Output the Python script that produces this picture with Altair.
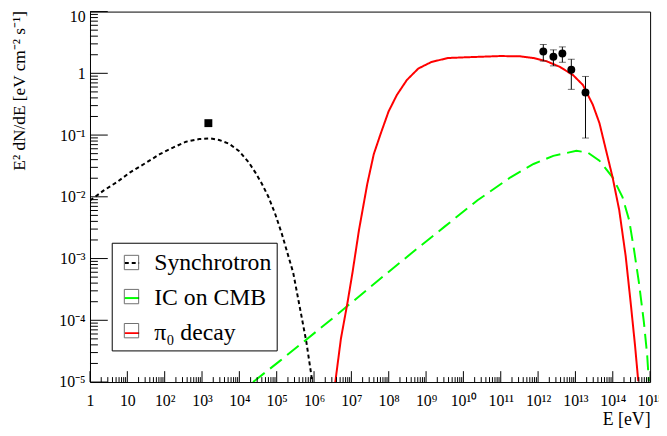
import altair as alt
import pandas as pd

# ---------------- data ----------------
series_names = ["Synchrotron", "IC on CMB", "π₀ decay"]
series_colors = ["#000000", "#00ff00", "#ff0000"]
series_dashes = [[4, 3], [15, 7], [1, 0]]

sync_E = [1.0, 2.34, 5.27, 11.9, 29.8, 74.1, 167, 375, 849, 1718, 2871, 5272, 9705,
          17820, 26670, 40090, 60260, 90160, 135500, 276700, 458100, 622300, 843300, 895400]
sync_F = [0.0087, 0.0127, 0.0173, 0.0249, 0.0348, 0.0491, 0.0627, 0.0782, 0.0863, 0.0885,
          0.0832, 0.0726, 0.0555, 0.0361, 0.0249, 0.0163, 0.00993, 0.00538, 0.00258,
          0.00059, 0.000119, 4.48e-5, 1.31e-5, 1.0e-5]

ic_E = [2.32e4, 1.22e5, 3.86e6, 5.41e7, 4.13e8, 3.14e9, 2.39e10, 1.83e11, 7.55e11,
        2.55e12, 1.06e13, 2.15e13, 4.40e13, 9.89e13, 1.82e14, 2.74e14, 3.71e14,
        5.02e14, 6.81e14, 8.34e14, 9.25e14]
ic_F = [1.0e-5, 2.2e-5, 1.19e-4, 4.5e-4, 1.23e-3, 3.29e-3, 8.79e-3, 0.0207, 0.034,
        0.0461, 0.0555, 0.0521, 0.0384, 0.0207, 0.00993, 0.00421, 0.00139, 4.08e-4,
        9.35e-5, 2.74e-5, 1.03e-5]

pi_E = [3.71e6, 5.25e6, 7.89e6, 1.07e7, 1.60e7, 2.67e7, 3.98e7, 6.0e7, 9.93e7, 1.66e8,
        3.05e8, 6.18e8, 1.40e9, 3.85e9, 1.06e10, 9.93e10, 3.36e11, 7.55e11, 1.70e12,
        3.85e12, 8.65e12, 1.59e13, 2.92e13, 4.40e13, 9.89e13, 1.49e14, 2.22e14,
        3.01e14, 3.94e14, 4.82e14]
pi_F = [1.0e-5, 5.06e-5, 1.95e-4, 5.9e-4, 2.91e-3, 0.01626, 0.0491, 0.1026, 0.242,
        0.448, 0.778, 1.194, 1.528, 1.77, 1.815, 1.905, 1.884, 1.77, 1.567, 1.27, 0.935,
        0.647, 0.31, 0.156, 0.0207, 0.00608, 0.00109, 1.95e-4, 3.95e-5, 1.03e-5]

# measured points (filled circles with error bars)
pt_E = [1.38e12, 2.57e12, 4.47e12, 7.76e12, 1.86e13]
pt_F = [2.26, 1.86, 2.10, 1.14, 0.49]
pt_lo = [1.58, 1.32, 1.51, 0.55, 0.0895]
pt_hi = [2.93, 2.40, 2.68, 1.69, 0.89]

# square marker
sq_E = [1480.0]
sq_F = [0.156]

# axis ticks and labels
x_exps = list(range(0, 16))
x_tick_labels = ["1", "10", "10²", "10³", "10⁴", "10⁵", "10⁶", "10⁷", "10⁸", "10⁹",
                 "10¹⁰", "10¹¹", "10¹²", "10¹³", "10¹⁴", "10¹⁵"]
y_exps = list(range(-5, 2))
y_tick_labels = ["10⁻⁵", "10⁻⁴", "10⁻³", "10⁻²", "10⁻¹", "1", "10"]
minor_mults = [2, 3, 4, 5, 6, 7, 8, 9]

# ---------------- tables ----------------
curve_df = pd.concat([
    pd.DataFrame({"E": sync_E, "F": sync_F, "series": series_names[0]}),
    pd.DataFrame({"E": ic_E, "F": ic_F, "series": series_names[1]}),
    pd.DataFrame({"E": pi_E, "F": pi_F, "series": series_names[2]}),
], ignore_index=True)
pts_df = pd.DataFrame({"E": pt_E, "F": pt_F, "lo": pt_lo, "hi": pt_hi})
sq_df = pd.DataFrame({"E": sq_E, "F": sq_F})

x_major = [10.0 ** e for e in x_exps]
x_minor = [m * 10.0 ** e for e in x_exps[:-1] for m in minor_mults]
y_major = [10.0 ** e for e in y_exps]
y_minor = [m * 10.0 ** e for e in y_exps[:-1] for m in minor_mults]

W, H = 567, 375
FONT = "Liberation Serif"


def label_expr(exps, labels):
    expr = "''"
    for e, lab in zip(exps, labels):
        expr = f"round(log(datum.value)/LN10) == {e} ? '{lab}' : (" + expr + ")"
    return expr


xs = alt.Scale(type="log", domain=[1, 1e15])
ys = alt.Scale(type="log", domain=[1e-5, 10])

x_axis = alt.Axis(values=x_major, labelExpr=label_expr(x_exps, x_tick_labels),
                  ticks=False, tickSize=0, domain=False, grid=False,
                  labelFont=FONT, labelFontSize=16, labelColor="black",
                  labelBaseline="middle", labelPadding=19, labelFlush=False,
                  labelOverlap=False, labelBound=False,
                  title="E [eV]", titleFont=FONT, titleFontSize=18,
                  titleFontWeight="normal", titleColor="black",
                  titleAlign="right", titleBaseline="middle", titleX=W, titleY=38)
y_axis = alt.Axis(values=y_major, labelExpr=label_expr(y_exps, y_tick_labels),
                  ticks=False, tickSize=0, domain=False, grid=False,
                  labelFont=FONT, labelFontSize=16, labelColor="black",
                  labelBaseline="middle", labelPadding=5, labelFlush=False,
                  labelOverlap=False, labelBound=False,
                  labelOffset={"condition": {"test": "datum.value > 5", "value": 5}, "value": 0},
                  title="E² dN/dE [eV cm⁻² s⁻¹]", titleFont=FONT, titleFontSize=17.5,
                  titleFontWeight="normal", titleColor="black", titleAngle=270,
                  titleAlign="right", titleBaseline="middle", titleX=-71, titleY=-1)

legend_common = dict(title=None, orient="none", legendX=22, legendY=234, padding=5,
                     symbolSize=841, labelFont=FONT, labelFontSize=24,
                     labelOffset=7, rowPadding=7.5, labelLimit=0)

# horizontal sample stroke; the zero-length segments give it the full box height
line_symbol = "M-0.5,-0.5L-0.5,-0.5M-0.5,0H0.5M0.5,0.5L0.5,0.5"
# sample box outline, padded so its bounds equal those of the stroke symbol
box_symbol = "M-0.5,-0.5H0.5V0.5H-0.5Z M-0.517,-0.517L-0.517,-0.517 M0.517,0.517L0.517,0.517"

line_legend = alt.Legend(symbolType=line_symbol, symbolStrokeWidth=2, labelColor="black",
                         strokeColor="black", **legend_common)

X = lambda f: alt.X(f, scale=xs, axis=x_axis)
Y = lambda f: alt.Y(f, scale=ys, axis=y_axis)

curves = alt.Chart(curve_df).mark_line(strokeWidth=2, clip=True).encode(
    x=X("E:Q"),
    y=Y("F:Q"),
    color=alt.Color("series:N", scale=alt.Scale(domain=series_names, range=series_colors),
                    legend=line_legend),
    strokeDash=alt.StrokeDash("series:N",
                              scale=alt.Scale(domain=series_names, range=series_dashes),
                              legend=line_legend),
)

# empty layer that only provides the little sample boxes of the legend
box_keys = [n + " box" for n in series_names]
box_df = pd.DataFrame({"box": box_keys, "E": [1.0] * 3, "F": [1.0] * 3})
boxes = alt.Chart(box_df).transform_filter("false").mark_point(
    color="#333333", filled=False, strokeWidth=1).encode(
    x=X("E:Q"),
    y=Y("F:Q"),
    shape=alt.Shape("box:N", scale=alt.Scale(domain=box_keys, range=[box_symbol] * 3),
                    legend=alt.Legend(symbolType=box_symbol, symbolStrokeColor="#333333",
                                      symbolStrokeWidth=1, labelExpr="''",
                                      **legend_common)),
)

errs = alt.Chart(pts_df).mark_errorbar(
    ticks={"size": 7, "color": "#333333"}, rule={"strokeWidth": 1}, color="black").encode(
    x=X("E:Q"),
    y=Y("lo:Q"),
    y2="hi:Q",
)
dots = alt.Chart(pts_df).mark_circle(size=64, color="black", opacity=1).encode(
    x=X("E:Q"), y=Y("F:Q"))
square = alt.Chart(sq_df).mark_square(size=64, color="black", opacity=1).encode(
    x=X("E:Q"), y=Y("F:Q"))


def xticks(values, length):
    return alt.Chart(pd.DataFrame({"E": values})).mark_rule(color="black", strokeWidth=1).encode(
        x=X("E:Q"), y=alt.value(H), y2=alt.value(H - length))


def yticks(values, length):
    return alt.Chart(pd.DataFrame({"F": values})).mark_rule(color="black", strokeWidth=1).encode(
        y=Y("F:Q"), x=alt.value(0), x2=alt.value(length))


chart = alt.layer(
    curves, xticks(x_major, 11), xticks(x_minor, 5), yticks(y_major, 18), yticks(y_minor, 8),
    boxes, errs, dots, square,
).properties(
    width=W, height=H,
    autosize=alt.AutoSizeParams(type="none"),
    padding={"left": 83, "top": 1, "right": 9, "bottom": 52},
    background="white",
).configure_view(stroke="black", strokeWidth=1)

chart.save("out.html", embed_options={"renderer": "svg", "actions": False})
